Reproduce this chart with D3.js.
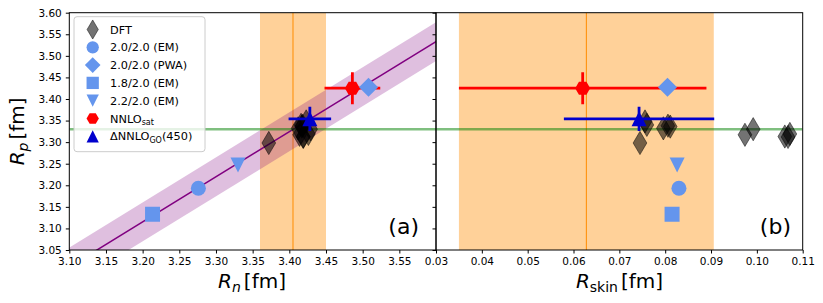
<!DOCTYPE html>
<html><head><meta charset="utf-8">
<script src="https://cdn.jsdelivr.net/npm/d3@7"></script>
<style>
body{margin:0;background:#fff;}
svg{display:block;font-family:"DejaVu Sans",sans-serif;}
</style></head>
<body><svg id="c" width="823" height="303"></svg>
<script>
// ---------------- data ----------------
const yTicks = [3.05,3.10,3.15,3.20,3.25,3.30,3.35,3.40,3.45,3.50,3.55,3.60];
const rnTicks = [3.10,3.15,3.20,3.25,3.30,3.35,3.40,3.45,3.50,3.55];
const skinTicks = [0.03,0.04,0.05,0.06,0.07,0.08,0.09,0.10,0.11];

// DFT points
const dftRn   = [3.372,3.423,3.416,3.412,3.417,3.418,3.414,3.429,3.419,3.426,3.419];
const dftRp   = [3.298,3.348,3.340,3.332,3.336,3.338,3.317,3.330,3.313,3.319,3.312];
const dftSkin = [0.0745,0.0756,0.0760,0.0796,0.0811,0.0806,0.0974,0.0992,0.1061,0.1072,0.1068];

// chiral interactions (cornflowerblue)
const chiLabels = ["2.0/2.0 (EM)","2.0/2.0 (PWA)","1.8/2.0 (EM)","2.2/2.0 (EM)"];
const chiShapes = ["circle","diamond","square","tridown"];
const chiRn   = [3.276,3.508,3.2135,3.330];
const chiRp   = [3.193,3.427,3.133,3.247];
const chiSkin = [0.083,0.0805,0.0815,0.0826];

// NNLOsat
const satRn = 3.486, satRnErr = 0.038;
const satRp = 3.425, satRpErr = 0.037;
const satSkin = 0.062, satSkinErr = 0.027;
// ΔNNLO_GO(450)
const goRn = 3.428, goRnErr = 0.029;
const goRp = 3.354, goRpErr = 0.028;
const goSkin = 0.0743, goSkinErr = 0.0164;

// experimental bands
const expRn = 3.405, expRnErr = 0.045;
const expSkin = 0.0628, expSkinErr = 0.0278;
const expRp = 3.33;
// linear correlation Rp = a*Rn + b, band half-width
const corrA = 1.0446, corrB = -0.2276, corrErr = 0.045;
const corrRn = [3.05, 3.65];

// ---------------- layout ----------------
const svg = d3.select("#c");
const yTop = 12.7, yBot = 250;
const y = d3.scaleLinear().domain([3.05,3.60]).range([yBot, yTop]);
const xa = d3.scaleLinear().domain([3.10,3.60]).range([69.3, 436]);
const xb = d3.scaleLinear().domain([0.03,0.11]).range([436, 802.7]);

const ORANGE="#ff8c00", PURPLE="#800080", CF="#6495ed", GO="#0000cd";

function marker(type, s){
  const h=s/2;
  switch(type){
    case "circle": return `M${h},0A${h},${h} 0 1,1 ${-h},0A${h},${h} 0 1,1 ${h},0Z`;
    case "square": return `M${-h},${-h}H${h}V${h}H${-h}Z`;
    case "diamond": { const d=h*1.27; return `M0,${-d}L${d},0L0,${d}L${-d},0Z`; }
    case "thin": { const hh=h*1.55, ww=hh*0.59; return `M0,${-hh}L${ww},0L0,${hh}L${-ww},0Z`; }
    case "tridown": return `M${-h},${-h}L${h},${-h}L0,${h}Z`;
    case "triup": return `M0,${-h}L${h},${h}L${-h},${h}Z`;
    case "hex": { const r=h; let p=""; for(let i=0;i<6;i++){const a=Math.PI/3*i; p+=(i?"L":"M")+(r*Math.cos(a)).toFixed(2)+","+(r*Math.sin(a)).toFixed(2);} return p+"Z"; }
  }
}

function panel(x, xvals, opts){
  const [x0,x1]=x.range();
  const clipId="clip"+opts.id;
  svg.append("clipPath").attr("id",clipId).append("rect")
    .attr("x",x0).attr("y",yTop).attr("width",x1-x0).attr("height",yBot-yTop);
  const p = svg.append("g").attr("clip-path",`url(#${clipId})`);
  p.append("rect").attr("x",x(opts.band-opts.bandErr)).attr("y",yTop)
    .attr("width",x(opts.band+opts.bandErr)-x(opts.band-opts.bandErr)).attr("height",yBot-yTop)
    .attr("fill",ORANGE).attr("fill-opacity",0.4);
  p.append("line").attr("x1",x(opts.band)).attr("x2",x(opts.band)).attr("y1",yTop).attr("y2",yBot)
    .attr("stroke",ORANGE).attr("stroke-width",1);
  if(opts.corr){
    const area=d3.area().x(d=>x(d)).y0(d=>y(corrA*d+corrB-corrErr)).y1(d=>y(corrA*d+corrB+corrErr));
    p.append("path").datum(corrRn).attr("d",area).attr("fill",PURPLE).attr("fill-opacity",0.25);
    const line=d3.line().x(d=>x(d)).y(d=>y(corrA*d+corrB));
    p.append("path").datum(corrRn).attr("d",line).attr("fill","none").attr("stroke",PURPLE).attr("stroke-width",1.5);
  }
  p.append("line").attr("x1",x0).attr("x2",x1).attr("y1",y(expRp)).attr("y2",y(expRp))
    .attr("stroke","#008000").attr("stroke-opacity",0.5).attr("stroke-width",2.6);
  xvals.dft.forEach((v,i)=>{
    p.append("path").attr("d",marker("thin",15)).attr("transform",`translate(${x(v)},${y(dftRp[i])})`)
      .attr("fill","#000").attr("fill-opacity",0.55).attr("stroke","#000").attr("stroke-opacity",0.6).attr("stroke-width",0.8);
  });
  const eb=(cx,cxe,cy,cye,col,shape,sz)=>{
    p.append("line").attr("x1",x(cx-cxe)).attr("x2",x(cx+cxe)).attr("y1",y(cy)).attr("y2",y(cy)).attr("stroke",col).attr("stroke-width",2.8);
    p.append("line").attr("x1",x(cx)).attr("x2",x(cx)).attr("y1",y(cy-cye)).attr("y2",y(cy+cye)).attr("stroke",col).attr("stroke-width",2.8);
    p.append("path").attr("d",marker(shape,sz)).attr("transform",`translate(${x(cx)},${y(cy)})`).attr("fill",col);
  };
  eb(xvals.sat,xvals.satErr,satRp,satRpErr,"#ff0000","hex",15);
  eb(xvals.go,xvals.goErr,goRp,goRpErr,GO,"triup",15);
  xvals.chi.forEach((v,i)=>{
    p.append("path").attr("d",marker(chiShapes[i],15)).attr("transform",`translate(${x(v)},${y(chiRp[i])})`).attr("fill",CF);
  });
  svg.append("rect").attr("x",x0).attr("y",yTop).attr("width",x1-x0).attr("height",yBot-yTop)
    .attr("fill","none").attr("stroke","#000").attr("stroke-width",1);
  const ax=svg.append("g").attr("transform",`translate(0,${yBot})`)
    .call(d3.axisBottom(x).tickValues(opts.ticks).tickFormat(d3.format(".2f")).tickSize(3.5).tickPadding(4.5));
  ax.select(".domain").remove();
  ax.selectAll("text").attr("font-size",10.5).attr("font-family","DejaVu Sans").attr("fill","#000");
  const ay=svg.append("g").attr("transform",`translate(${x0},0)`)
    .call(d3.axisLeft(y).tickValues(yTicks).tickFormat(opts.ylab?d3.format(".2f"):"").tickSize(3.5).tickPadding(4));
  ay.select(".domain").remove();
  ay.selectAll("text").attr("font-size",10.5).attr("font-family","DejaVu Sans").attr("fill","#000");
  svg.append("text").attr("x",opts.labX).attr("y",234).attr("text-anchor","end")
    .attr("font-size",22).text(opts.label);
}

panel(xa,{dft:dftRn,chi:chiRn,sat:satRn,satErr:satRnErr,go:goRn,goErr:goRnErr},
  {id:"a",band:expRn,bandErr:expRnErr,corr:true,ticks:rnTicks,ylab:true,label:"(a)",labX:419});
panel(xb,{dft:dftSkin,chi:chiSkin,sat:satSkin,satErr:satSkinErr,go:goSkin,goErr:goSkinErr},
  {id:"b",band:expSkin,bandErr:expSkinErr,corr:false,ticks:skinTicks,ylab:false,label:"(b)",labX:791});

function mathLabel(g, sub, subItalic){
  const t=g.append("text").attr("font-size",20).attr("text-anchor","middle");
  t.append("tspan").attr("font-style","italic").text("R");
  t.append("tspan").attr("font-size",14).attr("dy",4).attr("font-style",subItalic?"italic":"normal").text(sub);
  t.append("tspan").attr("dy",-4).attr("dx",3).text("[fm]");
  return t;
}
mathLabel(svg.append("g").attr("transform","translate(252,288)"),"n",true);
mathLabel(svg.append("g").attr("transform","translate(619.5,288)"),"skin",false);
mathLabel(svg.append("g").attr("transform","translate(23.5,131.4) rotate(-90)"),"p",true);

const lg=svg.append("g");
lg.append("rect").attr("x",74).attr("y",16.7).attr("width",131).attr("height",135).attr("rx",3)
  .attr("fill","#fff").attr("fill-opacity",0.8).attr("stroke","#cccccc").attr("stroke-width",1);
const legItems=[
  {shape:"thin",col:"#000",op:0.55,label:["DFT"]},
  {shape:"circle",col:CF,label:[chiLabels[0]]},
  {shape:"diamond",col:CF,label:[chiLabels[1]]},
  {shape:"square",col:CF,label:[chiLabels[2]]},
  {shape:"tridown",col:CF,label:[chiLabels[3]]},
  {shape:"hex",col:"#ff0000",label:["NNLO","sat"]},
  {shape:"triup",col:GO,label:["ΔNNLO","GO","(450)"]}
];
legItems.forEach((it,i)=>{
  const cy=29.5+i*17.8;
  const m=lg.append("path").attr("d",marker(it.shape,12.3)).attr("transform",`translate(92.7,${cy})`).attr("fill",it.col);
  if(it.op){m.attr("fill-opacity",it.op).attr("stroke","#000").attr("stroke-opacity",0.6).attr("stroke-width",0.8);}
  const t=lg.append("text").attr("x",110).attr("y",cy+4).attr("font-size",11.3);
  t.append("tspan").text(it.label[0]);
  if(it.label[1]){t.append("tspan").attr("font-size",8).attr("dy",2.5).text(it.label[1]);}
  if(it.label[2]){t.append("tspan").attr("dy",-2.5).text(it.label[2]);}
});
</script></body></html>
